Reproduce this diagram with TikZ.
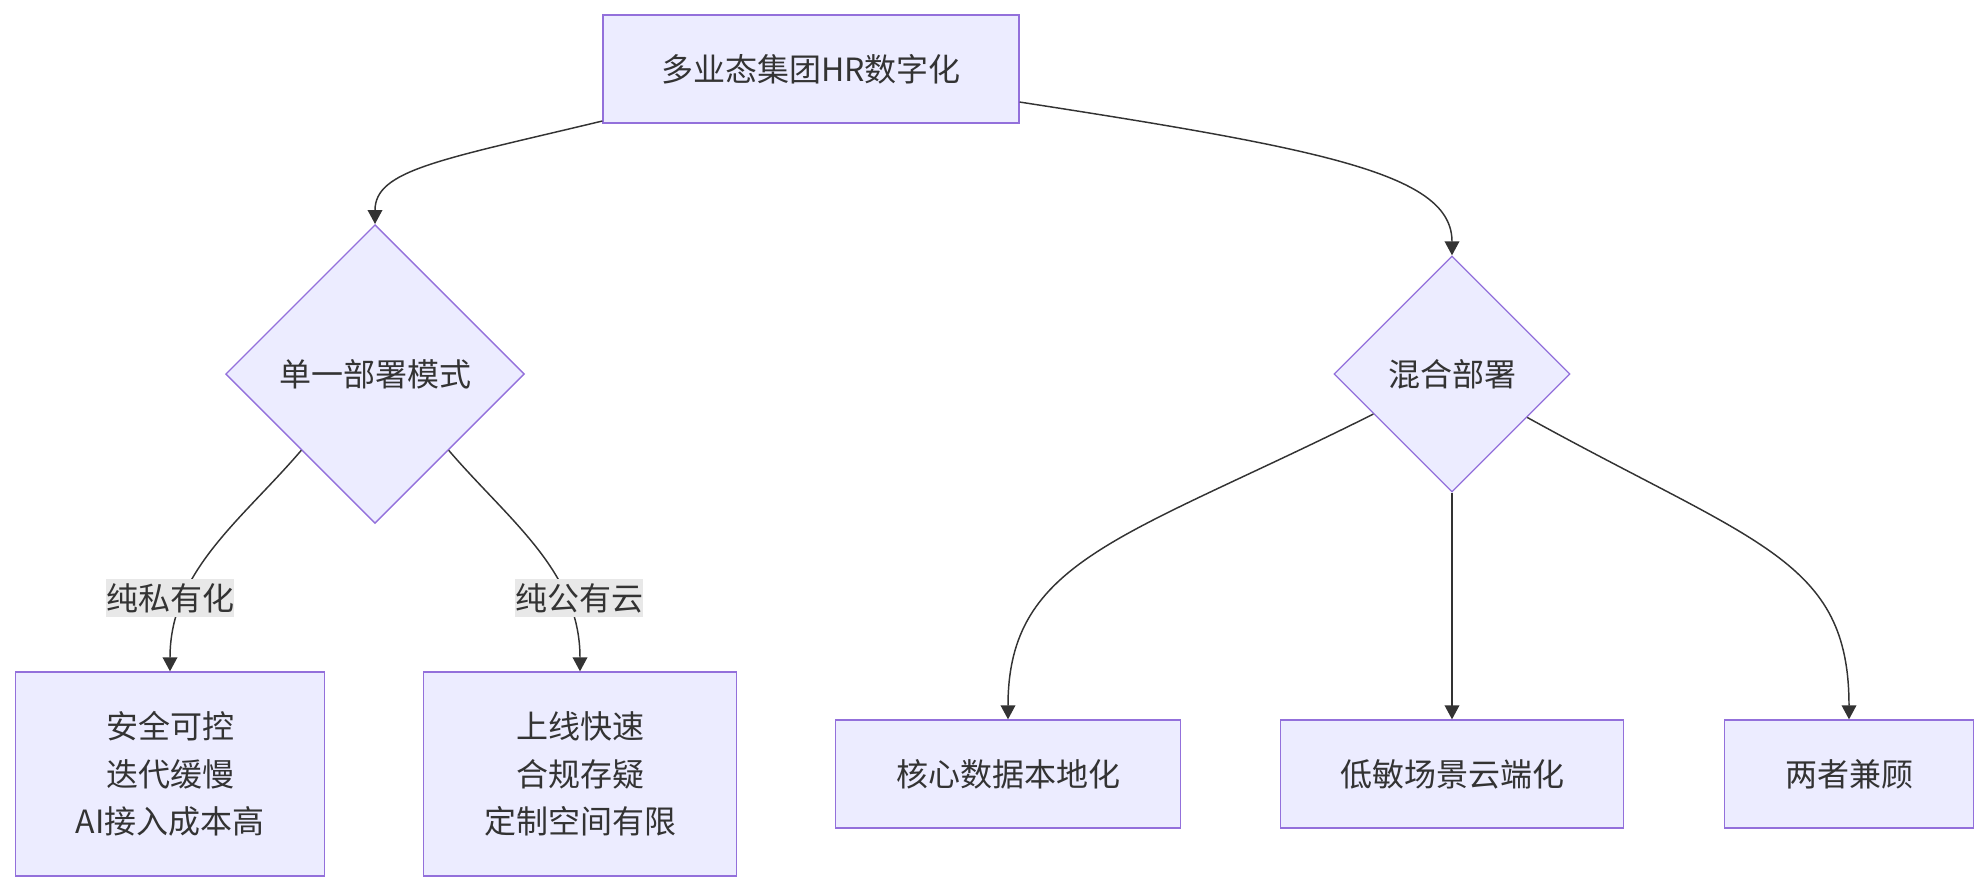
\documentclass[tikz,border=0pt]{standalone}
\usepackage{fontspec}
\setmainfont{Noto Sans CJK SC}
\usetikzlibrary{positioning, shapes.geometric, arrows.meta}
\definecolor{NodeFill}  {HTML}{ECECFF}
\definecolor{NodeLine}  {HTML}{9370DB}
\definecolor{TxtMain}   {HTML}{333333}
\definecolor{EdgeLine}  {HTML}{333333}
\definecolor{TagFill}   {HTML}{E8E8E8}

\tikzset{
  card/.style={rectangle, fill=NodeFill, draw=NodeLine, line width=1pt,
    inner sep=0pt, align=center, text=TxtMain,
    font=\fontsize{24}{35.6}\selectfont},
  choice/.style={diamond, fill=NodeFill, draw=NodeLine, line width=1pt,
    inner sep=0pt, text=TxtMain, font=\fontsize{24}{30}\selectfont},
  tag/.style={fill=TagFill, inner xsep=0pt, inner ysep=3pt, text=TxtMain,
    font=\fontsize{24}{30}\selectfont},
  flow/.style={draw=EdgeLine, line width=1.1pt,
    -{Triangle[length=10.5pt, width=11pt]}}
}

\begin{document}
\begin{tikzpicture}[x=0.75pt, y=-0.75pt]
      \useasboundingbox (0,0) rectangle (1987,892);
      % Root
      \node[card, minimum width=312pt, minimum height=81pt] (root) at (811,69)
        {多业态集团HR数字化};
      % Two decisions
      \node[choice, minimum width=224pt, minimum height=224pt] (single) at (375,374)
        {单一部署模式};
      \node[choice, minimum width=177pt, minimum height=177pt] (hybrid) at (1452,374)
        {混合部署};
      % Outcomes of single deployment
      \node[card, minimum width=232pt, minimum height=153pt] (priv) at (170,774)
        {安全可控\\迭代缓慢\\AI接入成本高};
      \node[card, minimum width=235pt, minimum height=153pt] (pub) at (580,774)
        {上线快速\\合规存疑\\定制空间有限};
      % Outcomes of hybrid deployment
      \node[card, minimum width=259pt, minimum height=81pt] (core) at (1008,774)
        {核心数据本地化};
      \node[card, minimum width=257pt, minimum height=81pt] (cloud) at (1452,774)
        {低敏场景云端化};
      \node[card, minimum width=187pt, minimum height=81pt] (both) at (1849,774)
        {两者兼顾};

      % Connectors
      \draw[flow] (root.194) .. controls (440,160) and (375,170) .. (single.north);
      \draw[flow] (root.-9.6) .. controls (1330,150) and (1452,175) .. (hybrid.north);
      \draw[flow] (single.226) .. controls +(-60,70) and +(0,-100) .. (priv.north);
      \draw[flow] (single.314) .. controls +(60,70) and +(0,-100) .. (pub.north);
      \draw[flow] (hybrid.207) .. controls +(-250,125) and +(0,-160) .. (core.north);
      \draw[flow] (hybrid.south) -- (cloud.north);
      \draw[flow] (hybrid.330) .. controls +(230,127) and +(0,-160) .. (both.north);

      % Edge labels
      \node[tag] (tagpriv) at (170,598) {纯私有化};
      \node[tag] (tagpub) at (579,598) {纯公有云};
\end{tikzpicture}
\end{document}
